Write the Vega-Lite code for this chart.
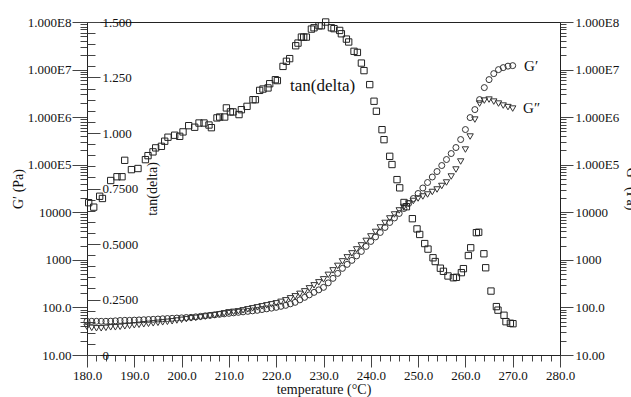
{
  "$schema": "https://vega.github.io/schema/vega-lite/v6.json",
  "width": 473,
  "height": 333,
  "autosize": {"type": "none"},
  "padding": {"left": 87, "top": 22, "right": 71, "bottom": 42},
  "background": "white",
  "config": {
    "view": {"stroke": "#222", "strokeWidth": 1},
    "font": "Liberation Serif",
    "axis": {
      "labelFont": "Liberation Serif", "titleFont": "Liberation Serif",
      "labelColor": "#111", "titleColor": "#111", "titleFontWeight": "normal",
      "labelFontSize": 13, "titleFontSize": 14, "domainColor": "#222",
      "tickColor": "#444", "grid": false, "labelOverlap": false,
      "labelFlush": false, "labelBound": false
    }
  },
  "datasets": {
    "tan": [
      {"T":180.36,"v":0.686},{"T":181.42,"v":0.666},{"T":182.68,"v":0.715},{"T":183.26,"v":0.705},{"T":185.01,"v":0.786},{"T":186.34,"v":0.803},{"T":187.40,"v":0.803},{"T":187.97,"v":0.877},{"T":189.39,"v":0.835},{"T":190.78,"v":0.840},{"T":192.35,"v":0.880},{"T":192.90,"v":0.898},{"T":193.95,"v":0.915},{"T":194.52,"v":0.933},{"T":195.73,"v":0.940},{"T":196.43,"v":0.963},{"T":197.12,"v":0.981},{"T":198.54,"v":0.990},{"T":199.60,"v":0.985},{"T":200.30,"v":1.005},{"T":201.50,"v":1.033},{"T":202.77,"v":1.026},{"T":203.68,"v":1.045},{"T":204.74,"v":1.045},{"T":205.79,"v":1.036},{"T":206.30,"v":1.024},{"T":207.48,"v":1.068},{"T":208.05,"v":1.072},{"T":209.11,"v":1.072},{"T":209.47,"v":1.113},{"T":210.32,"v":1.095},{"T":210.87,"v":1.095},{"T":212.14,"v":1.083},{"T":212.64,"v":1.105},{"T":213.83,"v":1.120},{"T":215.09,"v":1.150},{"T":215.60,"v":1.150},{"T":216.51,"v":1.192},{"T":217.21,"v":1.198},{"T":218.27,"v":1.203},{"T":218.63,"v":1.222},{"T":219.83,"v":1.240},{"T":220.25,"v":1.236},{"T":221.44,"v":1.300},{"T":222.16,"v":1.323},{"T":222.85,"v":1.335},{"T":224.12,"v":1.393},{"T":224.61,"v":1.405},{"T":225.33,"v":1.432},{"T":225.81,"v":1.432},{"T":226.38,"v":1.432},{"T":227.44,"v":1.468},{"T":227.99,"v":1.474},{"T":229.05,"v":1.483},{"T":229.56,"v":1.483},{"T":230.46,"v":1.500},{"T":231.67,"v":1.474},{"T":232.22,"v":1.470},{"T":233.42,"v":1.462},{"T":233.78,"v":1.447},{"T":234.84,"v":1.423},{"T":235.33,"v":1.410},{"T":236.45,"v":1.368},{"T":237.17,"v":1.363},{"T":238.01,"v":1.315},{"T":238.56,"v":1.281},{"T":239.77,"v":1.218},{"T":240.68,"v":1.143},{"T":241.18,"v":1.098},{"T":242.37,"v":1.015},{"T":242.79,"v":0.970},{"T":244.00,"v":0.895},{"T":244.48,"v":0.858},{"T":245.54,"v":0.790},{"T":246.11,"v":0.753},{"T":247.02,"v":0.687},{"T":247.53,"v":0.668},{"T":248.79,"v":0.614},{"T":249.77,"v":0.568},{"T":250.34,"v":0.543},{"T":251.40,"v":0.502},{"T":252.09,"v":0.477},{"T":253.15,"v":0.438},{"T":253.62,"v":0.421},{"T":254.71,"v":0.391},{"T":255.35,"v":0.377},{"T":256.32,"v":0.356},{"T":257.46,"v":0.348},{"T":258.10,"v":0.350},{"T":259.15,"v":0.371},{"T":259.58,"v":0.389},{"T":260.63,"v":0.448},{"T":261.12,"v":0.483},{"T":262.32,"v":0.551},{"T":262.81,"v":0.553},{"T":263.91,"v":0.456},{"T":264.29,"v":0.393},{"T":265.41,"v":0.288},{"T":266.55,"v":0.218},{"T":266.89,"v":0.202},{"T":268.16,"v":0.179},{"T":268.58,"v":0.150},{"T":269.51,"v":0.143},{"T":270.06,"v":0.141}
    ],
    "G": [
      {"T":180,"g1":51.1,"g2":39.1},{"T":181,"g1":51.1,"g2":37.2},{"T":182,"g1":51.1,"g2":36.4},{"T":183,"g1":51.1,"g2":36.4},{"T":184,"g1":51.1,"g2":37.2},{"T":185,"g1":51.5,"g2":38.2},{"T":186,"g1":52.3,"g2":38.2},{"T":187,"g1":53.1,"g2":39.1},{"T":188,"g1":53.6,"g2":40.1},{"T":189,"g1":53.6,"g2":41.0},{"T":190,"g1":54.1,"g2":42.1},{"T":191,"g1":54.6,"g2":43.1},{"T":192,"g1":55.1,"g2":44.2},{"T":193,"g1":55.7,"g2":45.2},{"T":194,"g1":56.2,"g2":46.3},{"T":195,"g1":57.0,"g2":47.5},{"T":196,"g1":57.8,"g2":48.6},{"T":197,"g1":58.4,"g2":49.8},{"T":198,"g1":59.0,"g2":51.1},{"T":199,"g1":59.8,"g2":53.1},{"T":200,"g1":60.4,"g2":54.9},{"T":201,"g1":61.4,"g2":56.7},{"T":202,"g1":61.9,"g2":59.0},{"T":203,"g1":63.4,"g2":60.4},{"T":204,"g1":65.0,"g2":61.9},{"T":205,"g1":66.6,"g2":64.4},{"T":206,"g1":68.2,"g2":66.6},{"T":207,"g1":69.9,"g2":68.9},{"T":208,"g1":71.6,"g2":71.6},{"T":209,"g1":73.3,"g2":75.1},{"T":210,"g1":75.1,"g2":78.8},{"T":211,"g1":76.9,"g2":80.7},{"T":212,"g1":78.8,"g2":82.7},{"T":213,"g1":80.7,"g2":86.8},{"T":214,"g1":82.7,"g2":91.2},{"T":215,"g1":84.7,"g2":95.7},{"T":216,"g1":86.8,"g2":100.4},{"T":217,"g1":90.3,"g2":105.4},{"T":218,"g1":93.4,"g2":110.6},{"T":219,"g1":96.6,"g2":116.1},{"T":220,"g1":100.4,"g2":121.9},{"T":221,"g1":105.4,"g2":131.0},{"T":222,"g1":110.6,"g2":140.9},{"T":223,"g1":118.9,"g2":155.2},{"T":224,"g1":127.9,"g2":171.0},{"T":225,"g1":144.3,"g2":192.9},{"T":226,"g1":162.8,"g2":217.6},{"T":227,"g1":183.7,"g2":251.5},{"T":228,"g1":207.3,"g2":290.9},{"T":229,"g1":233.9,"g2":336.5},{"T":230,"g1":264.0,"g2":389.2},{"T":231,"g1":328.3,"g2":483.4},{"T":232,"g1":408.3,"g2":600.8},{"T":233,"g1":519.8,"g2":746.4},{"T":234,"g1":661.8,"g2":928.1},{"T":235,"g1":803.5,"g2":1127},{"T":236,"g1":975.3,"g2":1366},{"T":237,"g1":1211,"g2":1656},{"T":238,"g1":1504,"g2":2011},{"T":239,"g1":1915,"g2":2500},{"T":240,"g1":2438,"g2":3105},{"T":241,"g1":3031,"g2":3862},{"T":242,"g1":3767,"g2":4796},{"T":243,"g1":4796,"g2":5965},{"T":244,"g1":6107,"g2":7413},{"T":245,"g1":7596,"g2":8995},{"T":246,"g1":9441,"g2":10920},{"T":247,"g1":12020,"g2":12940},{"T":248,"g1":15310,"g2":15310},{"T":249,"g1":19490,"g2":17290},{"T":250,"g1":24820,"g2":19490},{"T":251,"g1":32420,"g2":21480},{"T":252,"g1":42280,"g2":23660},{"T":253,"g1":55210,"g2":26720},{"T":254,"g1":71940,"g2":30130},{"T":255,"g1":96190,"g2":35720},{"T":256,"g1":128600,"g2":42280},{"T":257,"g1":171800,"g2":56500},{"T":258,"g1":229600,"g2":79250},{"T":259,"g1":338100,"g2":116700},{"T":260,"g1":548200,"g2":208400},{"T":261,"g1":979700,"g2":390900},{"T":262,"g1":1442000,"g2":889200},{"T":263,"g1":2339000,"g2":1928000},{"T":264,"g1":4178000,"g2":2228000},{"T":265,"g1":6149000,"g2":2339000},{"T":266,"g1":8222000,"g2":2123000},{"T":267,"g1":9977000,"g2":1928000},{"T":268,"g1":10990000,"g2":1750000},{"T":269,"g1":11800000,"g2":1626000},{"T":270,"g1":12100000,"g2":1514000}
    ],
    "lab1": [{"T":229.8,"v":1.21,"label":"tan(delta)"}],
    "lab2": [{"T":272.4,"g":11800000,"label":"G′"},{"T":272.2,"g":1550000,"label":"G″"}]
  },
  "encoding": {
    "x": {
      "field": "T", "type": "quantitative",
      "scale": {"domain": [180, 280], "nice": false, "zero": false},
      "axis": {
        "title": "temperature (°C)",
        "values": [180,182,184,186,188,190,192,194,196,198,200,202,204,206,208,210,212,214,216,218,220,222,224,226,228,230,232,234,236,238,240,242,244,246,248,250,252,254,256,258,260,262,264,266,268,270,272,274,276,278,280],
        "labelExpr": "datum.value % 10 === 0 ? format(datum.value, '.1f') : ''",
        "tickSize": {"condition": {"test": "datum.value % 10 === 0", "value": 12}, "value": 6},
        "labelPadding": 2,
        "titleY": 34, "titleBaseline": "middle"
      }
    }
  },
  "layer": [
    {
      "data": {"name": "G"},
      "mark": {"type": "point", "shape": "circle", "filled": false, "color": "#333", "strokeWidth": 1, "size": 36, "opacity": 1},
      "encoding": {
        "y": {
          "field": "g1", "type": "quantitative",
          "scale": {"type": "log", "domain": [10, 100000000], "nice": false},
          "axis": {
            "orient": "left", "title": "G′ (Pa)",
            "values": [10,20,30,40,50,60,70,80,90,100,200,300,400,500,600,700,800,900,1000,2000,3000,4000,5000,6000,7000,8000,9000,10000,20000,30000,40000,50000,60000,70000,80000,90000,100000,200000,300000,400000,500000,600000,700000,800000,900000,1000000,2000000,3000000,4000000,5000000,6000000,7000000,8000000,9000000,10000000,20000000,30000000,40000000,50000000,60000000,70000000,80000000,90000000,100000000],
            "labelExpr": "datum.value===100000000?'1.000E8':datum.value===10000000?'1.000E7':datum.value===1000000?'1.000E6':datum.value===100000?'1.000E5':datum.value===10000?'10000':datum.value===1000?'1000':datum.value===100?'100.0':datum.value===10?'10.00':''",
            "tickSize": {"condition": {"test": "indexof([10,100,1000,10000,100000,1000000,10000000,100000000], datum.value) >= 0", "value": 15}, "value": 7},
            "labelPadding": 1,
            "titleAngle": 270, "titleX": -69, "titleY": 166.5, "titleAlign": "center", "titleBaseline": "middle"
          }
        }
      }
    },
    {
      "data": {"name": "G"},
      "mark": {"type": "point", "shape": "triangle-down", "filled": false, "color": "#333", "strokeWidth": 1, "size": 40, "opacity": 1},
      "encoding": {
        "y": {
          "field": "g2", "type": "quantitative",
          "scale": {"type": "log", "domain": [10, 100000000], "nice": false},
          "axis": {
            "orient": "right", "title": "G″ (Pa)",
            "values": [10,20,30,40,50,60,70,80,90,100,200,300,400,500,600,700,800,900,1000,2000,3000,4000,5000,6000,7000,8000,9000,10000,20000,30000,40000,50000,60000,70000,80000,90000,100000,200000,300000,400000,500000,600000,700000,800000,900000,1000000,2000000,3000000,4000000,5000000,6000000,7000000,8000000,9000000,10000000,20000000,30000000,40000000,50000000,60000000,70000000,80000000,90000000,100000000],
            "labelExpr": "datum.value===100000000?'1.000E8':datum.value===10000000?'1.000E7':datum.value===1000000?'1.000E6':datum.value===100000?'1.000E5':datum.value===10000?'10000':datum.value===1000?'1000':datum.value===100?'100.0':datum.value===10?'10.00':''",
            "tickSize": {"condition": {"test": "indexof([10,100,1000,10000,100000,1000000,10000000,100000000], datum.value) >= 0", "value": 13}, "value": 6},
            "labelPadding": 2,
            "titleAngle": 90, "titleX": 70, "titleY": 166.5, "titleAlign": "center", "titleBaseline": "middle"
          }
        }
      }
    },
    {
      "data": {"name": "tan"},
      "mark": {"type": "point", "shape": "square", "filled": false, "color": "#222", "strokeWidth": 1, "size": 40, "opacity": 1},
      "encoding": {
        "y": {
          "field": "v", "type": "quantitative",
          "scale": {"domain": [0, 1.5], "nice": false, "zero": false},
          "axis": {
            "orient": "right", "offset": -473, "title": "tan(delta)",
            "values": [0,0.05,0.1,0.15,0.2,0.25,0.3,0.35,0.4,0.45,0.5,0.55,0.6,0.65,0.7,0.75,0.8,0.85,0.9,0.95,1,1.05,1.1,1.15,1.2,1.25,1.3,1.35,1.4,1.45,1.5],
            "labelExpr": "datum.value===1.5?'1.500':datum.value===1.25?'1.250':datum.value===1?'1.000':datum.value===0.75?'0.7500':datum.value===0.5?'0.5000':datum.value===0.25?'0.2500':datum.value===0?'0':''",
            "tickSize": {"condition": {"test": "indexof([0,0.25,0.5,0.75,1,1.25,1.5], datum.value) >= 0", "value": 13}, "value": 8},
            "labelPadding": 2, "domain": false,
            "titleAngle": 270, "titleX": 65, "titleY": 166.5, "titleAlign": "center", "titleBaseline": "middle"
          }
        }
      }
    },
    {
      "data": {"name": "lab1"},
      "mark": {"type": "text", "font": "Liberation Serif", "fontSize": 17, "align": "center", "baseline": "middle", "color": "#111"},
      "encoding": {
        "y": {"field": "v", "type": "quantitative", "scale": {"domain": [0, 1.5], "nice": false, "zero": false}, "axis": null},
        "text": {"field": "label"}
      }
    },
    {
      "data": {"name": "lab2"},
      "mark": {"type": "text", "font": "Liberation Serif", "fontSize": 15, "align": "left", "baseline": "middle", "color": "#111"},
      "encoding": {
        "y": {"field": "g", "type": "quantitative", "scale": {"type": "log", "domain": [10, 100000000], "nice": false}, "axis": null},
        "text": {"field": "label"}
      }
    }
  ],
  "resolve": {"scale": {"y": "independent"}, "axis": {"y": "independent"}}
}
